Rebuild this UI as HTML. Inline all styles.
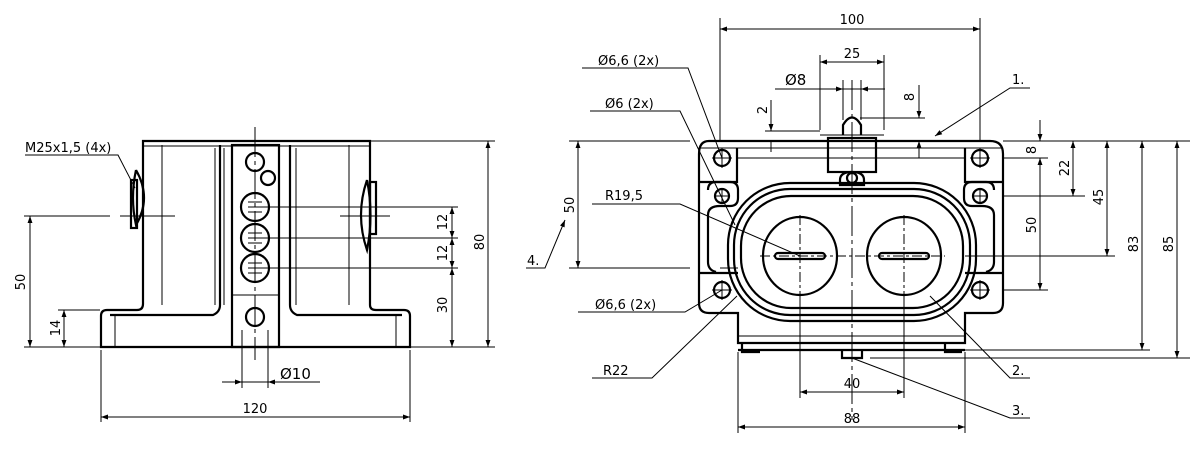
<!DOCTYPE html>
<html><head><meta charset="utf-8"><style>
html,body{margin:0;padding:0;background:#fff}
svg{display:block}
text{font-family:"DejaVu Sans","Liberation Sans",sans-serif;font-size:13px;fill:#000}
</style></head><body>
<svg width="1200" height="449" viewBox="0 0 1200 449" xmlns="http://www.w3.org/2000/svg">
<defs>
<marker id="a" viewBox="0 0 10 10" refX="10" refY="5" markerWidth="9" markerHeight="7" orient="auto-start-reverse" markerUnits="userSpaceOnUse"><path d="M0,1.5 L10,5 L0,8.5 z" fill="#000"/></marker>
</defs>
<g fill="none" stroke="#000" stroke-width="1">
<g stroke-width="2.2">
<path d="M143,141 H370 V305 Q370,310 376,310 H404 Q410,310 410,316 V347 H101 V316 Q101,310 107,310 H137 Q143,310 143,304 Z"/>
<rect x="232" y="145" width="47" height="202"/>
<path d="M220,145 V305 Q220,312 213,315 H110"/>
<path d="M290,145 V305 Q290,312 297,315 H402"/>
<circle cx="255" cy="162" r="9"/><circle cx="268" cy="178" r="7"/>
<circle cx="255" cy="207" r="14"/><circle cx="255" cy="238" r="14"/><circle cx="255" cy="268" r="14"/>
<circle cx="255" cy="317" r="9"/>
<path d="M136,170 Q152,198 136,225 Q130,198 136,170"/><rect x="131" y="180" width="6" height="48"/>
<path d="M367,180 Q355,215 367,250 Q374,215 367,180"/><rect x="370" y="182" width="6" height="52"/>
</g>
<path d="M162,145 V305 M215,148 V305 M224,148 V305 M296,148 V305 M349,145 V305 M115,316 V347 M396,316 V347 M232,295 H279 M143,146 H370"/>
<path d="M248,202 H262 M248,207 H262 M248,212 H262 M248,233 H262 M248,238 H262 M248,243 H262 M248,263 H262 M248,268 H262 M248,273 H262"/>
<path d="M255,127 V360" stroke-dasharray="30,4,4,4"/>
<path d="M24,216 H110 M120,216 H175 M340,216 H390 M58,310 H100 M24,347 H100 M370,141 H495 M410,347 H495 M255,207 H458 M255,238 H458 M255,268 H458 M101,350 V422 M410,350 V422 M242,330 V388 M268,330 V388"/>
<path d="M30,216 V347" marker-start="url(#a)" marker-end="url(#a)"/>
<path d="M64,310 V347" marker-start="url(#a)" marker-end="url(#a)"/>
<path d="M452,207 V238" marker-start="url(#a)" marker-end="url(#a)"/>
<path d="M452,238 V268" marker-start="url(#a)" marker-end="url(#a)"/>
<path d="M452,268 V347" marker-start="url(#a)" marker-end="url(#a)"/>
<path d="M488,141 V347" marker-start="url(#a)" marker-end="url(#a)"/>
<path d="M101,417 H410" marker-start="url(#a)" marker-end="url(#a)"/>
<path d="M222,382 H242" marker-end="url(#a)"/><path d="M290,382 H268" marker-end="url(#a)"/><path d="M242,382 H320"/>
<path d="M25,155 H118 L135,188"/>

<g stroke-width="2.2">
<path d="M709,141 H990 Q1003,141 1003,154 V303 Q1003,313 993,313 H965 V343 H738 V313 H709 Q699,313 699,303 V154 Q699,141 709,141 Z"/>
<path d="M699,182 H737 V148 M1003,182 H965 V148"/>
<path d="M699,273 H738 M1003,273 H965"/>
<path d="M708,190 Q708,182 716,182 H730 Q738,182 738,190 V198 Q738,206 730,206 H720 Q708,206 708,215 V262 Q708,270 716,272"/>
<path d="M994,190 Q994,182 986,182 H972 Q964,182 964,190 V198 Q964,206 972,206 H982 Q994,206 994,215 V262 Q994,270 986,272"/>
<rect x="728" y="183" width="248" height="138" rx="62"/>
<rect x="734" y="189" width="236" height="126" rx="56"/>
<rect x="741" y="196" width="222" height="112" rx="50"/>
<ellipse cx="800" cy="256" rx="37" ry="39"/><ellipse cx="904" cy="256" rx="37" ry="39"/>
<rect x="775" y="253" width="50" height="6" rx="3"/><rect x="879" y="253" width="50" height="6" rx="3"/>
<circle cx="722" cy="158" r="8"/><circle cx="980" cy="158" r="8"/>
<circle cx="722" cy="196" r="7"/><circle cx="980" cy="196" r="7"/>
<circle cx="722" cy="290" r="8"/><circle cx="980" cy="290" r="8"/>
<rect x="828" y="138" width="48" height="34"/>
<path d="M843,135 V125 Q852,110 861,125 V135"/>
<path d="M840,180 Q840,172 852,172 Q864,172 864,180 V185 H840 Z"/>
<circle cx="852" cy="178" r="5"/>
<path d="M738,350 H965 M742,343 V352 H760 M945,343 V352 H962 M842,350 V358 H862 V350"/>
</g>
<path d="M820,135 H884 M699,148 H1003 M737,158 H965 M738,336 H965"/>
<path d="M852,80 V420" stroke-dasharray="30,4,4,4"/>
<path d="M800,215 V300 M904,215 V300 M760,256 H945" stroke-dasharray="10,3,3,3"/>
<path d="M712,158 H732 M722,148 V168 M970,158 H990 M980,148 V168 M712,290 H732 M722,280 V300 M970,290 H990 M980,280 V300 M714,196 H730 M722,188 V204 M972,196 H988 M980,188 V204"/>
<path d="M720,18 V141 M980,18 V141 M820,55 V130 M884,55 V130 M843,80 V120 M861,80 V120 M765,131 H820 M860,118 H925"/>
<path d="M720,29 H980" marker-start="url(#a)" marker-end="url(#a)"/>
<path d="M820,62 H884" marker-start="url(#a)" marker-end="url(#a)"/>
<path d="M822,89 H843" marker-end="url(#a)"/><path d="M885,89 H861" marker-end="url(#a)"/><path d="M775,89 H885"/>
<path d="M771,100 V131" marker-end="url(#a)"/><path d="M771,141 V152"/>
<path d="M919,85 V118" marker-end="url(#a)"/><path d="M919,158 V141" marker-end="url(#a)"/>
<path d="M1003,141 H1190 M1003,158 H1048 M1003,196 H1085 M965,256 H1115 M1003,290 H1048 M965,350 H1150 M870,358 H1190 M569,141 H690 M569,268 H690 M720,268 H738"/>
<path d="M1040,120 V141" marker-end="url(#a)"/><path d="M1040,158 V290" marker-start="url(#a)" marker-end="url(#a)"/>
<path d="M1073,141 V196" marker-start="url(#a)" marker-end="url(#a)"/>
<path d="M1107,141 V256" marker-start="url(#a)" marker-end="url(#a)"/>
<path d="M1142,141 V350" marker-start="url(#a)" marker-end="url(#a)"/>
<path d="M1177,141 V358" marker-start="url(#a)" marker-end="url(#a)"/>
<path d="M578,141 V268" marker-start="url(#a)" marker-end="url(#a)"/>
<path d="M800,300 V398 M904,300 V398 M738,352 V433 M965,352 V433"/>
<path d="M800,392 H904" marker-start="url(#a)" marker-end="url(#a)"/>
<path d="M738,427 H965" marker-start="url(#a)" marker-end="url(#a)"/>
<path d="M582,68 H688 L722,158"/>
<path d="M590,111 H680 L735,225"/>
<path d="M592,204 H680 L800,256"/>
<path d="M578,312 H685 L722,290"/>
<path d="M592,378 H652 L737,296"/>
<path d="M1030,88 H1010 L935,136" marker-end="url(#a)"/>
<path d="M1030,378 H1010 L930,296"/>
<path d="M1030,418 H1010 L852,358"/>
<path d="M526,268 H545 L565,220" marker-end="url(#a)"/>
</g>
<g>
<text x="25" y="152">M25x1,5 (4x)</text>
<text transform="translate(25,282) rotate(-90)" text-anchor="middle">50</text>
<text transform="translate(60,328) rotate(-90)" text-anchor="middle">14</text>
<text transform="translate(447,222) rotate(-90)" text-anchor="middle">12</text>
<text transform="translate(447,253) rotate(-90)" text-anchor="middle">12</text>
<text transform="translate(447,305) rotate(-90)" text-anchor="middle">30</text>
<text transform="translate(484,242) rotate(-90)" text-anchor="middle">80</text>
<text x="255" y="413" text-anchor="middle">120</text>
<text x="280" y="379" style="font-size:15px">Ø10</text>
<text x="852" y="24" text-anchor="middle">100</text>
<text x="852" y="58" text-anchor="middle">25</text>
<text x="785" y="85" style="font-size:15px">Ø8</text>
<text transform="translate(767,110) rotate(-90)" text-anchor="middle">2</text>
<text transform="translate(914,97) rotate(-90)" text-anchor="middle">8</text>
<text transform="translate(1036,150) rotate(-90)" text-anchor="middle">8</text>
<text transform="translate(1036,225) rotate(-90)" text-anchor="middle">50</text>
<text transform="translate(1069,168) rotate(-90)" text-anchor="middle">22</text>
<text transform="translate(1103,197) rotate(-90)" text-anchor="middle">45</text>
<text transform="translate(1138,244) rotate(-90)" text-anchor="middle">83</text>
<text transform="translate(1173,244) rotate(-90)" text-anchor="middle">85</text>
<text transform="translate(574,205) rotate(-90)" text-anchor="middle">50</text>
<text x="852" y="388" text-anchor="middle">40</text>
<text x="852" y="423" text-anchor="middle">88</text>
<text x="598" y="65">Ø6,6 (2x)</text>
<text x="605" y="108">Ø6 (2x)</text>
<text x="605" y="200">R19,5</text>
<text x="595" y="309">Ø6,6 (2x)</text>
<text x="603" y="375">R22</text>
<text x="1012" y="84">1.</text>
<text x="1012" y="375">2.</text>
<text x="1012" y="415">3.</text>
<text x="527" y="265">4.</text>
</g>
</svg>
</body></html>
